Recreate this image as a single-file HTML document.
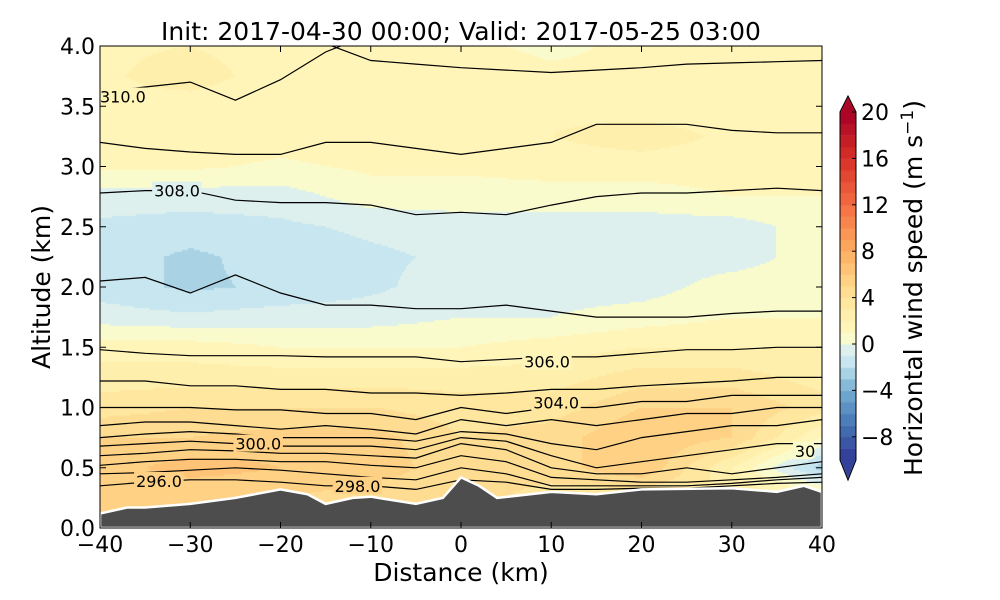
<!DOCTYPE html>
<html><head><meta charset="utf-8">
<style>
body{margin:0;background:#fff;width:1000px;height:600px;overflow:hidden;font-family:"DejaVu Sans","Liberation Sans",sans-serif}
#wrap{position:relative;width:1000px;height:600px}
canvas{position:absolute;left:0;top:0}
svg{position:absolute;left:0;top:0}
text{font-family:"DejaVu Sans","Liberation Sans",sans-serif}
</style></head>
<body>
<div id="wrap">
<canvas id="field" width="1000" height="600"></canvas>
<svg id="svg" width="1000" height="600"></svg>
</div>
<script>
const gridX = [-40,-30,-20,-10,0,10,20,30,40];
const gridZ = [0,0.25,0.5,0.75,1.0,1.25,1.5,1.75,2.0,2.25,2.5,2.75,3.0,3.25,3.5,3.75,4.0];
const windRows = [
[5,5,5,4.5,4.5,3.5,3,3,2],
[5,5,5,4.5,4.5,3.5,3,3,2],
[5.5,6.5,6,5.5,4.5,4.5,6,2,-2.5],
[5,5,5.5,5.5,4,4.5,6,5,1],
[3.5,4,4,4,3.5,3.5,5,5,3.5],
[2.5,2.5,2.5,2.5,2.5,2.5,3.5,3.5,2.5],
[1.5,1.5,1,1,1,1.5,2,2,2],
[-0.5,-0.8,-0.5,-0.5,0,0,0.5,1,1],
[-1.5,-2.2,-1.8,-1.2,-0.5,-0.5,-0.5,0.5,0.5],
[-1.5,-2.2,-1.6,-1.2,-0.8,-0.5,-0.5,-0.5,0.5],
[-1.2,-1.5,-1.2,-0.8,-0.5,-0.5,-0.5,-0.5,0.5],
[-0.5,-0.5,-0.5,0.5,0.5,0.5,0.5,1,1],
[1.2,1.2,0.8,1.2,1.2,1.5,1.5,1.5,1.5],
[1.5,1.8,1.5,1.5,1.8,2,2.5,1.8,1.5],
[1.8,1.5,1.2,1.8,1.5,1.8,1.5,1.5,1.5],
[1.8,2.5,1.5,1.8,1.5,1.2,1.2,1.5,1.5],
[1.8,2,1.5,1.5,1.2,0.8,1.2,1.5,1.5]];
const terrainX = [-40,-37,-35,-30,-25,-20,-17,-15,-12,-10,-5,-2,0,2,4,10,15,20,30,35,38,40];
const terrainZ = [0.12,0.17,0.17,0.2,0.25,0.32,0.28,0.2,0.25,0.26,0.2,0.25,0.42,0.35,0.25,0.3,0.28,0.32,0.33,0.3,0.35,0.3];
const contourX = [-40,-35,-30,-25,-20,-15,-10,-5,0,5,10,15,20,25,30,35,40];
const contours = [
[3.62,3.66,3.7,3.55,3.72,3.95,4.1,4.3,4.3,4.3,4.3,4.3,4.3,4.3,4.3,4.3,4.3],
[4.3,4.3,4.3,4.2,4.1,4.02,3.88,3.85,3.82,3.8,3.78,3.8,3.82,3.85,3.86,3.87,3.88],
[3.2,3.15,3.12,3.1,3.1,3.2,3.2,3.15,3.1,3.15,3.2,3.35,3.35,3.35,3.3,3.28,3.28],
[2.78,2.8,2.8,2.72,2.7,2.7,2.68,2.6,2.62,2.6,2.68,2.75,2.78,2.78,2.8,2.82,2.8],
[2.05,2.08,1.95,2.1,1.95,1.85,1.85,1.82,1.82,1.85,1.8,1.75,1.75,1.75,1.78,1.8,1.8],
[1.48,1.45,1.43,1.43,1.43,1.42,1.42,1.42,1.38,1.4,1.42,1.42,1.45,1.48,1.48,1.5,1.5],
[1.22,1.22,1.18,1.18,1.15,1.15,1.12,1.12,1.1,1.12,1.15,1.15,1.18,1.2,1.22,1.25,1.25],
[1.0,1.0,1.0,0.98,0.98,0.95,0.95,0.9,1.0,0.95,1.0,1.0,1.05,1.05,1.1,1.1,1.1],
[0.85,0.88,0.88,0.85,0.82,0.85,0.82,0.78,0.9,0.85,0.9,0.85,0.9,0.95,0.95,1.0,1.0],
[0.75,0.78,0.8,0.78,0.75,0.75,0.75,0.72,0.8,0.78,0.7,0.65,0.75,0.8,0.85,0.85,0.9],
[0.68,0.7,0.72,0.7,0.68,0.68,0.68,0.65,0.75,0.72,0.6,0.5,0.55,0.6,0.65,0.7,0.7],
[0.6,0.62,0.65,0.64,0.62,0.62,0.6,0.58,0.7,0.65,0.5,0.45,0.45,0.5,0.45,0.5,0.55],
[0.52,0.55,0.57,0.57,0.55,0.55,0.52,0.5,0.6,0.55,0.42,0.4,0.38,0.38,0.4,0.42,0.45],
[0.45,0.46,0.48,0.5,0.48,0.45,0.42,0.4,0.5,0.45,0.35,0.35,0.35,0.35,0.37,0.4,0.42],
[0.35,0.38,0.4,0.4,0.38,0.35,0.35,0.32,0.4,0.38,0.32,0.32,0.33,0.33,0.35,0.37,0.38]];
const contourLabels = ["310.0","308.0","306.0","304.0","300.0","298.0","296.0","30"];
const labelX = [-40,-34,7,8,-25,-14,-36,37];
const labelZ = [3.58,2.8,1.38,1.04,0.7,0.35,0.39,0.64];
const xTicks = [-40,-30,-20,-10,0,10,20,30,40];
const yTicks = [0,0.5,1.0,1.5,2.0,2.5,3.0,3.5,4.0];
const cbTicks = [20,16,12,8,4,0,-4,-8];

const L=100,R=822,T=46,B=528;
const sx=x=>L+(x+40)/80*(R-L);
const sy=z=>B-z/4*(B-T);
const cbX=840,cbW=16;
const cy=v=>112+(20-v)*11.6;
const cbTop=cy(20),cbBot=cy(-10);

const stops=[[-10,[49,54,149]],[-7,[69,117,180]],[-4,[116,173,209]],[-2,[186,223,235]],[-1,[212,236,244]],[0,[229,244,232]],[0.5,[250,251,205]],[1.5,[255,245,185]],[3,[255,236,165]],[5,[254,216,140]],[8,[253,174,97]],[12,[244,109,67]],[16,[215,48,39]],[20,[165,0,38]]];
function cmap(v){v=Math.max(-10,Math.min(20,Math.floor(v)+0.5));
 for(let i=0;i<stops.length-1;i++){const a=stops[i],b=stops[i+1];if(v<=b[0]){const t=(v-a[0])/(b[0]-a[0]);return 'rgb('+a[1].map((c,k)=>Math.round(c+(b[1][k]-c)*t)).join(',')+')';}}
 return 'rgb(165,0,38)';}
function interp(xs,ys,x){if(x<=xs[0])return ys[0];for(let i=0;i<xs.length-1;i++){if(x<=xs[i+1]){const t=(x-xs[i])/(xs[i+1]-xs[i]);return ys[i]+(ys[i+1]-ys[i])*t;}}return ys[ys.length-1];}
function wind(x,z){const col=windRows.map(r=>interp(gridX,r,x));return interp(gridZ,col,z);}

const ctx=document.getElementById('field').getContext('2d');
for(let px=L;px<R;px+=2){for(let py=T;py<B;py+=2){const x=(px+1-L)/(R-L)*80-40,z=(B-py-1)/(B-T)*4;ctx.fillStyle=cmap(wind(x,z));ctx.fillRect(px,py,2,2);}}
for(let v=-10;v<20;v++){ctx.fillStyle=cmap(v);ctx.fillRect(cbX,cy(v+1),cbW,cy(v)-cy(v+1)+0.5);}
ctx.fillStyle=cmap(19);ctx.beginPath();ctx.moveTo(cbX,cbTop);ctx.lineTo(cbX+cbW/2,96);ctx.lineTo(cbX+cbW,cbTop);ctx.fill();
ctx.fillStyle=cmap(-10);ctx.beginPath();ctx.moveTo(cbX,cbBot);ctx.lineTo(cbX+cbW/2,480);ctx.lineTo(cbX+cbW,cbBot);ctx.fill();

const svg=document.getElementById('svg');const NS='http://www.w3.org/2000/svg';
function el(tag,attrs,txt){const e=document.createElementNS(NS,tag);for(const k in attrs)e.setAttribute(k,attrs[k]);if(txt!==undefined)e.textContent=txt;svg.appendChild(e);return e;}
const clip=el('clipPath',{id:'pc'});const cr=document.createElementNS(NS,'rect');cr.setAttribute('x',L);cr.setAttribute('y',T);cr.setAttribute('width',R-L);cr.setAttribute('height',B-T);clip.appendChild(cr);
contours.forEach((c,i)=>{const d=c.map((z,j)=>(j?'L':'M')+sx(contourX[j]).toFixed(1)+','+sy(z).toFixed(1)).join('');
 const p=el('path',{d:d,fill:'none',stroke:'#000','stroke-width':1.2,'clip-path':'url(#pc)'});
 
 });
contourLabels.forEach((t,i)=>{const bx=sx(labelX[i]),by=sy(labelZ[i]);
 const bg=el('rect',{x:bx-2,y:by-9,width:t.length*9.5+2,height:17,fill:cmap(wind(labelX[i],labelZ[i])),'clip-path':'url(#pc)'});
 
 
 const tx=el('text',{x:bx,y:by+6,'font-size':16,fill:'#000','clip-path':'url(#pc)'},t);
 
 });
let td='M'+sx(-40)+','+B;terrainX.forEach((x,i)=>{td+='L'+sx(x).toFixed(1)+','+sy(terrainZ[i]).toFixed(1);});td+='L'+R+','+B+'Z';
const ter=el('path',{d:td,fill:'#4d4d4d',stroke:'#fff','stroke-width':2.5,'clip-path':'url(#pc)'});


const fr=el('rect',{x:L,y:T,width:R-L,height:B-T,fill:'none',stroke:'#000','stroke-width':1});


xTicks.forEach(v=>{const x=sx(v);el('line',{x1:x,x2:x,y1:B,y2:B-6,stroke:'#000'});el('line',{x1:x,x2:x,y1:T,y2:T+6,stroke:'#000'});
 const t=el('text',{x:x,y:B+24,'font-size':22,'text-anchor':'middle'},(v<0?'\u2212'+(-v):v));
 
 });
yTicks.forEach(v=>{const y=sy(v);el('line',{x1:L,x2:L+6,y1:y,y2:y,stroke:'#000'});el('line',{x1:R,x2:R-6,y1:y,y2:y,stroke:'#000'});
 const t=el('text',{x:L-5,y:y+8,'font-size':22,'text-anchor':'end'},v.toFixed(1));
 
 });
const cbo=el('path',{d:`M${cbX},${cbTop}L${cbX+cbW/2},96L${cbX+cbW},${cbTop}L${cbX+cbW},${cbBot}L${cbX+cbW/2},480L${cbX},${cbBot}Z`,fill:'none',stroke:'#000'});


cbTicks.forEach(v=>{const y=cy(v);el('line',{x1:cbX+cbW-4,x2:cbX+cbW,y1:y,y2:y,stroke:'#000'});
 const t=el('text',{x:cbX+21,y:y+8,'font-size':22},(v<0?'\u2212'+(-v):v));
 
 });
</script>
<svg width="1000" height="600" style="position:absolute;left:0;top:0;pointer-events:none">
<text x="461" y="40" font-size="25" text-anchor="middle">Init: 2017-04-30 00:00; Valid: 2017-05-25 03:00</text>
<text x="461" y="581" font-size="25" text-anchor="middle">Distance (km)</text>
<text transform="translate(50,287) rotate(-90)" font-size="25" text-anchor="middle">Altitude (km)</text>
<text transform="translate(922,288) rotate(-90)" font-size="25" text-anchor="middle">Horizontal wind speed (m s<tspan dy="-9" font-size="17">−1</tspan><tspan dy="9">)</tspan></text>
</svg>
</body></html>
